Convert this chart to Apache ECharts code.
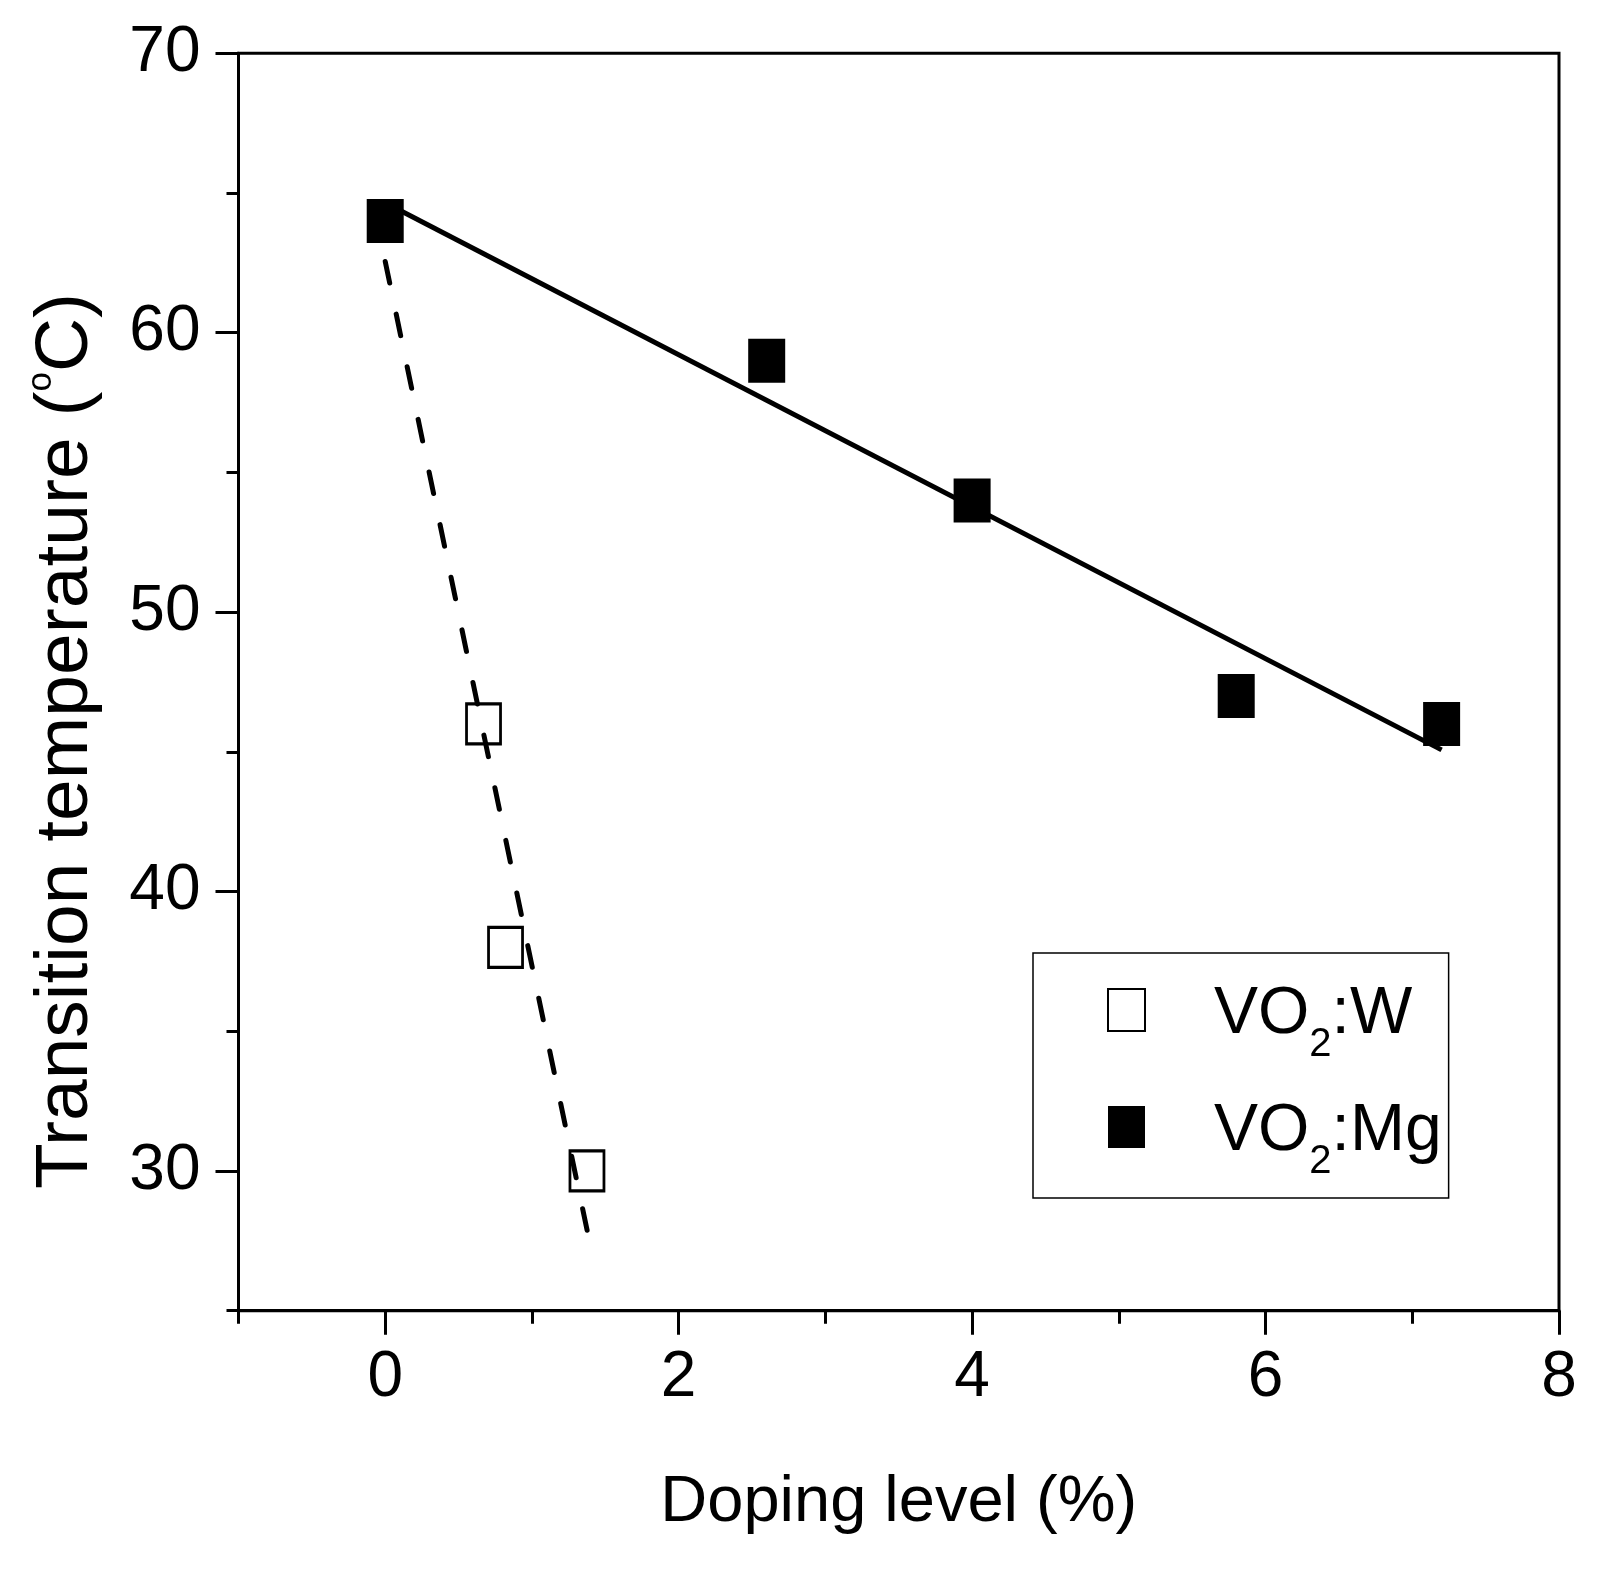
<!DOCTYPE html>
<html>
<head>
<meta charset="utf-8">
<script src="https://cdn.jsdelivr.net/npm/echarts@6/dist/echarts.min.js"></script>
<style>
html,body{margin:0;padding:0;background:#fff;}
#chart{width:1598px;height:1580px;}
</style>
</head>
<body>
<div id="chart"></div>
<script>
// ---- data ----
const wX = [0.67, 0.82, 1.375];          // VO2:W doping level (%)
const wY = [46.0, 38.0, 30.0];           // VO2:W transition temperature
const mgX = [0, 2.6, 4.0, 5.8, 7.2];     // VO2:Mg doping level (%)
const mgY = [64.0, 59.0, 54.0, 47.0, 46.0];
const wFitX = [0, 1.383];                // dashed fit line for VO2:W
const wFitY = [62.55, 27.7];
const mgFitX = [0, 7.2];                 // solid fit line for VO2:Mg
const mgFitY = [64.65, 45.07];
const xTickLabels = [0, 2, 4, 6, 8];
const yTickLabels = [30, 40, 50, 60, 70];
const seriesNames = ['VO2:W', 'VO2:Mg'];

const REG = '"Liberation Sans", Arial, sans-serif';

const pair = (xs, ys) => xs.map((x, i) => [x, ys[i]]);

const L = 238.5, R = 39, T = 53.3, B = 269.3;
const xPx = (1598 - R - L) / 9;
const yPx = (1580 - B - T) / 45;
const left0 = L + xPx * (xTickLabels[0] - (-1));
const bottom30 = B + yPx * (yTickLabels[0] - 25);

const chart = echarts.init(document.getElementById('chart'), null, {renderer: 'canvas'});
const axisCol = '#000';

chart.setOption({
  animation: false,
  backgroundColor: '#fff',
  grid: [
    {left: L, right: R, top: T, bottom: B, show: true, borderColor: axisCol, borderWidth: 3, backgroundColor: 'transparent'},
    {left: left0, right: R, top: T, bottom: B},
    {left: L, right: R, top: T, bottom: bottom30}
  ],
  xAxis: [
    {
      gridIndex: 0, type: 'value', min: -1, max: 8, interval: 1,
      axisLine: {show: true, onZero: false, lineStyle: {color: axisCol, width: 3}},
      axisTick: {show: true, inside: false, length: 13, lineStyle: {color: axisCol, width: 3}},
      axisLabel: {show: false}, splitLine: {show: false},
      name: 'Doping level (%)', nameLocation: 'middle', nameGap: 160,
      nameTextStyle: {fontFamily: REG, fontSize: 65, color: '#000'}
    },
    {
      gridIndex: 1, type: 'value', min: xTickLabels[0], max: xTickLabels[xTickLabels.length - 1], interval: 2,
      axisLine: {show: false, onZero: false},
      axisTick: {show: true, inside: false, length: 24, lineStyle: {color: axisCol, width: 3}},
      axisLabel: {show: true, margin: 36, fontFamily: REG, fontSize: 64, color: '#000'},
      splitLine: {show: false}
    },
    {gridIndex: 2, type: 'value', min: -1, max: 8, show: false}
  ],
  yAxis: [
    {
      gridIndex: 0, type: 'value', min: 25, max: 70, interval: 5,
      axisLine: {show: true, onZero: false, lineStyle: {color: axisCol, width: 3}},
      axisTick: {show: true, inside: false, length: 12, lineStyle: {color: axisCol, width: 3}},
      axisLabel: {show: false}, splitLine: {show: false},
      name: '{a|Transition temperature (}{s|o}{a|C)}',
      nameLocation: 'middle', nameGap: 129, nameRotate: 90,
      nameTextStyle: {
        padding: [0, 118, 0, 0],
        rich: {
          a: {fontFamily: REG, fontSize: 75, lineHeight: 86, color: '#000'},
          s: {fontFamily: REG, fontSize: 35, lineHeight: 35, verticalAlign: 'top', color: '#000'}
        }
      }
    },
    {gridIndex: 1, type: 'value', min: 25, max: 70, show: false},
    {
      gridIndex: 2, type: 'value', min: yTickLabels[0], max: yTickLabels[yTickLabels.length - 1], interval: 10,
      axisLine: {show: false, onZero: false},
      axisTick: {show: true, inside: false, length: 23, lineStyle: {color: axisCol, width: 3}},
      axisLabel: {show: true, margin: 38, fontFamily: REG, fontSize: 64, color: '#000'},
      splitLine: {show: false}
    }
  ],
  legend: {
    show: true, orient: 'vertical', left: 1033, top: 953,
    data: seriesNames.map(n => ({name: n, icon: 'rect'})),
    itemWidth: 37, itemHeight: 42, itemGap: 24,
    padding: [19, 7, 16, 74],
    borderColor: '#000', borderWidth: 1.5, backgroundColor: '#fff',
    selectedMode: false,
    formatter: function (name) {
      const parts = name.split('2');
      return '{p|}{a|' + parts[0] + '}{b|2}{a|' + parts[1] + '}';
    },
    textStyle: {
      rich: {
        p: {width: 64, lineHeight: 110},
        a: {fontFamily: REG, fontSize: 66, lineHeight: 100, padding: [10, 0, 0, 0], color: '#000'},
        b: {fontFamily: REG, fontSize: 40, lineHeight: 14, verticalAlign: 'bottom', color: '#000'}
      }
    }
  },
  series: [
    {
      name: seriesNames[0], type: 'scatter', xAxisIndex: 0, yAxisIndex: 0,
      data: pair(wX, wY), symbol: 'rect', symbolSize: [34, 40], z: 2,
      itemStyle: {color: '#fff', borderColor: '#000', borderWidth: 3, opacity: 1}
    },
    {
      name: seriesNames[1], type: 'scatter', xAxisIndex: 0, yAxisIndex: 0,
      data: pair(mgX, mgY), symbol: 'rect', symbolSize: [37, 44], z: 2,
      itemStyle: {color: '#000', borderWidth: 0, opacity: 1}
    },
    {
      name: 'W fit', type: 'line', xAxisIndex: 0, yAxisIndex: 0,
      data: pair(wFitX, wFitY), showSymbol: false, symbol: 'none', silent: true, z: 3,
      lineStyle: {color: '#000', width: 5, type: [22, 31.76], cap: 'round'}
    },
    {
      name: 'Mg fit', type: 'line', xAxisIndex: 0, yAxisIndex: 0,
      data: pair(mgFitX, mgFitY), showSymbol: false, symbol: 'none', silent: true, z: 1,
      lineStyle: {color: '#000', width: 5, type: 'solid'}
    }
  ]
});
</script>
</body>
</html>
